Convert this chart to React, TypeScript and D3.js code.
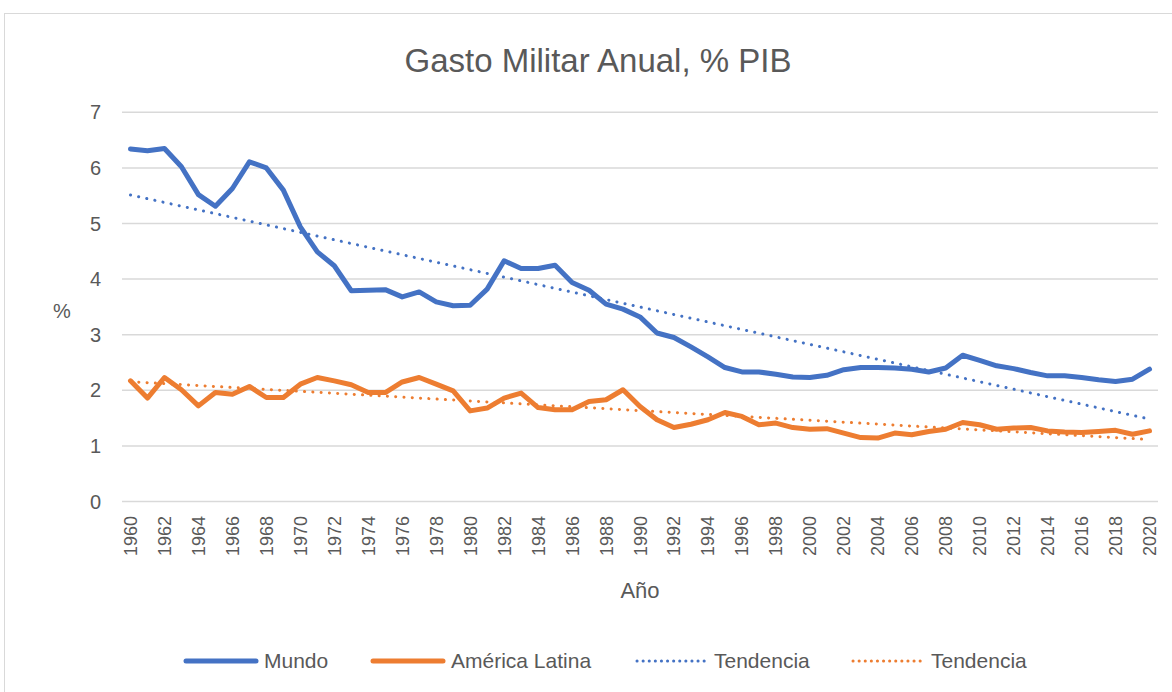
import * as d3 from 'd3';

// años de la serie
const years: number[] = d3.range(1960, 2021);

// Gasto militar, % del PIB
const mundo: number[] = [
  6.34, 6.31, 6.35, 6.02, 5.52, 5.31, 5.63, 6.11, 6.0, 5.6,
  4.94, 4.49, 4.24, 3.79, 3.8, 3.81, 3.68, 3.77, 3.59, 3.52,
  3.53, 3.82, 4.33, 4.19, 4.19, 4.25, 3.94, 3.8, 3.55, 3.46,
  3.32, 3.03, 2.95, 2.78, 2.6, 2.41, 2.33, 2.33, 2.29, 2.24,
  2.23, 2.27, 2.37, 2.41, 2.41, 2.4, 2.38, 2.33, 2.4, 2.63,
  2.54, 2.44, 2.39, 2.32, 2.26, 2.26, 2.23, 2.19, 2.16, 2.2,
  2.38,
];

const americaLatina: number[] = [
  2.17, 1.86, 2.23, 2.01, 1.72, 1.96, 1.93, 2.07, 1.87, 1.87,
  2.11, 2.23, 2.17, 2.1, 1.96, 1.96, 2.15, 2.23, 2.11, 1.99,
  1.63, 1.68, 1.86, 1.95, 1.69, 1.65, 1.65, 1.8, 1.83, 2.01,
  1.71, 1.47, 1.33, 1.39, 1.47, 1.6, 1.53, 1.38, 1.41, 1.33,
  1.3, 1.31, 1.23, 1.15, 1.14, 1.23, 1.2, 1.26, 1.3, 1.42,
  1.38, 1.3, 1.32, 1.33, 1.27, 1.25, 1.24, 1.26, 1.28, 1.21,
  1.27,
];

const yTicks: number[] = [0, 1, 2, 3, 4, 5, 6, 7];
const xTickYears: number[] = years.filter(y => (y - 1960) % 2 === 0);

const BLUE = '#4472C4';
const ORANGE = '#ED7D31';
const TEXT = '#595959';
const GRID = '#d9d9d9';
const FONT = '"Liberation Sans", Arial, sans-serif';

// tendencia lineal (mínimos cuadrados), como la línea de tendencia de Excel
function trend(values: number[]): number[] {
  const xs = values.map((_, i) => i + 1);
  const mx = d3.mean(xs) as number;
  const my = d3.mean(values) as number;
  const sxy = d3.sum(xs, (x, i) => (x - mx) * (values[i] - my));
  const sxx = d3.sum(xs, x => (x - mx) ** 2);
  const b = sxy / sxx;
  const a = my - b * mx;
  return xs.map(x => a + b * x);
}

export default function App() {
  const width = 1172;
  const height = 692;

  const x = d3.scalePoint<number>()
    .domain(years)
    .range([122, 1158])
    .padding(0.5);

  const y = d3.scaleLinear()
    .domain([0, 7])
    .range([501.5, 112.3]);

  const line = d3.line<number>()
    .x((_, i) => x(years[i]) as number)
    .y(d => y(d));

  const series = [
    { values: mundo, color: BLUE },
    { values: americaLatina, color: ORANGE },
  ];

  const legend = [
    { label: 'Mundo', color: BLUE, dotted: false, x0: 186, tx: 264 },
    { label: 'América Latina', color: ORANGE, dotted: false, x0: 373, tx: 451 },
    { label: 'Tendencia', color: BLUE, dotted: true, x0: 637, tx: 714 },
    { label: 'Tendencia', color: ORANGE, dotted: true, x0: 853, tx: 931 },
  ];

  return (
    <svg
      width={width}
      height={height}
      style={{ position: 'absolute', left: 0, top: 0, background: '#fff' }}
      fontFamily={FONT}
    >
      {/* borde del área del gráfico */}
      <rect x={4.5} y={13.5} width={1180} height={700} fill="none" stroke={GRID} strokeWidth={1} />

      <text x={598} y={72} textAnchor="middle" fontSize={33} fill={TEXT}>
        Gasto Militar Anual, % PIB
      </text>

      {/* rejilla y eje Y */}
      {yTicks.map(t => (
        <g key={t}>
          <line x1={122} x2={1158} y1={y(t)} y2={y(t)} stroke={GRID} strokeWidth={1.5} />
          <text x={101} y={y(t) + 7} textAnchor="end" fontSize={20} fill={TEXT}>{t}</text>
        </g>
      ))}
      <text x={62} y={318} textAnchor="middle" fontSize={20} fill={TEXT}>%</text>

      {/* etiquetas del eje X */}
      {xTickYears.map(yr => (
        <text
          key={yr}
          transform={`translate(${(x(yr) as number) + 6.5}, 516) rotate(-90)`}
          textAnchor="end"
          fontSize={18}
          fill={TEXT}
        >
          {yr}
        </text>
      ))}
      <text x={640} y={598} textAnchor="middle" fontSize={22} fill={TEXT}>Año</text>

      {/* tendencias */}
      {series.map((s, i) => (
        <path
          key={'t' + i}
          d={line(trend(s.values)) as string}
          fill="none"
          stroke={s.color}
          strokeWidth={3}
          strokeLinecap="round"
          strokeDasharray="0.1 8.2"
        />
      ))}

      {/* series */}
      {series.map((s, i) => (
        <path
          key={'s' + i}
          d={line(s.values) as string}
          fill="none"
          stroke={s.color}
          strokeWidth={5}
          strokeLinejoin="round"
          strokeLinecap="round"
        />
      ))}

      {/* leyenda */}
      {legend.map((l, i) => (
        <g key={i}>
          <line
            x1={l.x0}
            x2={l.x0 + 70}
            y1={661}
            y2={661}
            stroke={l.color}
            strokeWidth={l.dotted ? 3 : 5}
            strokeLinecap="round"
            strokeDasharray={l.dotted ? '0.1 6' : undefined}
          />
          <text x={l.tx} y={668} fontSize={21} fill={TEXT}>{l.label}</text>
        </g>
      ))}
    </svg>
  );
}
